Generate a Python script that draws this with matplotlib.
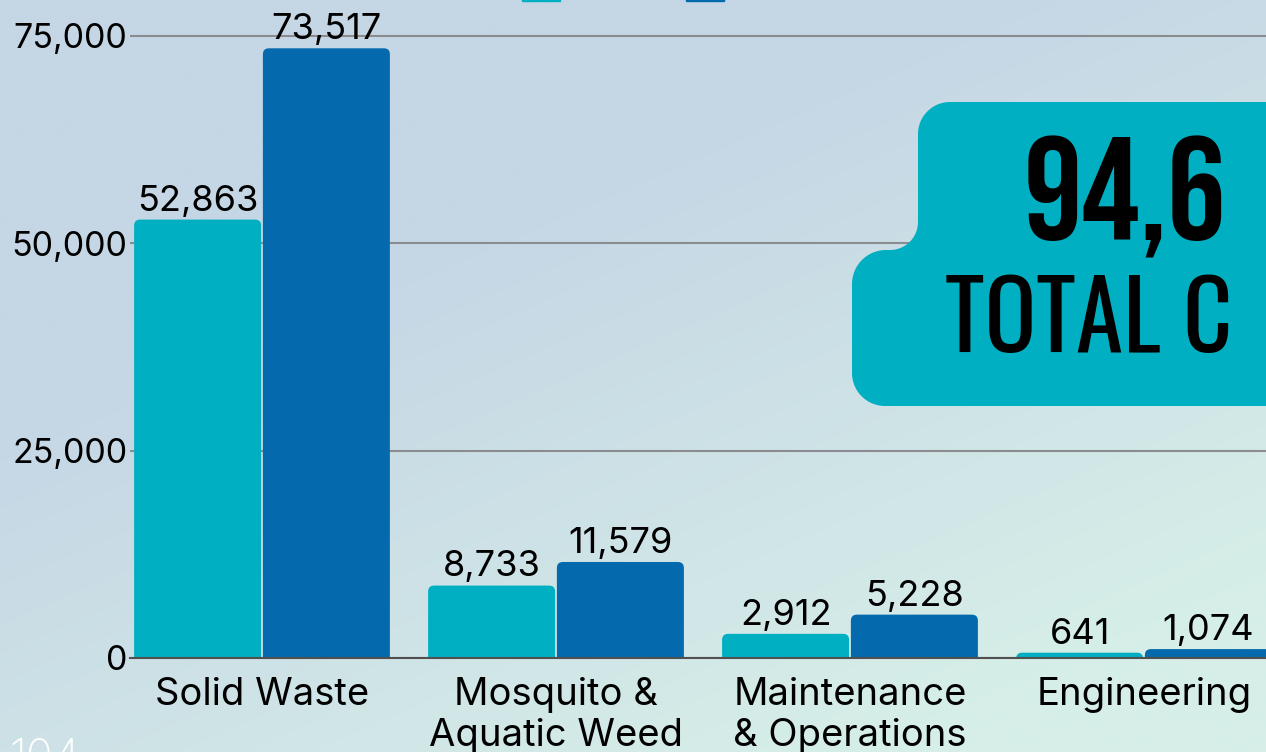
import numpy as np
import matplotlib
matplotlib.use("Agg")
import matplotlib.pyplot as plt
import matplotlib.font_manager as fm
from matplotlib.patches import FancyBboxPatch, Polygon, Patch

plt.rcParams['font.family'] = ['Inter', 'DejaVu Sans']

# ---------------- data ----------------
categories = ["Solid Waste", "Mosquito &\nAquatic Weed", "Maintenance\n& Operations", "Engineering"]
series_names = ["FY21", "FY22"]
fy21 = [52863, 8733, 2912, 641]
fy22 = [73517, 11579, 5228, 1074]
ytick_values = [0, 25000, 50000, 75000]
ytick_labels = ["0", "25,000", "50,000", "75,000"]
badge_number = "94,6"
badge_caption = "TOTAL C"
page_number = "104"

c21 = "#00AFC1"
c22 = "#046AAD"
badge_color = "#00AFC1"

W, H = 1266, 752
fig = plt.figure(figsize=(W / 100, H / 100), dpi=100)


# ---------------- pick condensed fonts for the badge ----------------
def pick(pref):
    entries = fm.fontManager.ttflist
    names = [f.name for f in entries]
    for p in pref:
        if p in names:
            return p, 'normal'
    for f in entries:
        if 'Condensed' in f.name or 'Narrow' in f.name:
            return f.name, 'normal'
    for f in entries:
        if str(f.stretch) in ('condensed', 'semi-condensed', 'extra-condensed', 'ultra-condensed'):
            return f.name, str(f.stretch)
    return 'DejaVu Sans', 'normal'


num_family, num_stretch = pick(['Bebas Neue', 'League Gothic', 'Oswald', 'Antonio', 'Roboto Condensed',
                                'Open Sans Condensed', 'Liberation Sans Narrow', 'Arial Narrow',
                                'DejaVu Sans Condensed', 'Noto Sans Condensed'])
cap_family, cap_stretch = pick(['Oswald', 'Antonio', 'Roboto Condensed', 'Open Sans Condensed',
                                'Liberation Sans Narrow', 'Noto Sans Condensed', 'DejaVu Sans Condensed',
                                'Bebas Neue', 'League Gothic'])

# ---------------- background gradient ----------------
bg = fig.add_axes([0, 0, 1, 1], zorder=0)
yy, xx = np.mgrid[0:1:200j, 0:1:340j]
t = np.clip((0.55 * xx + 0.75 * yy - 0.42) / 0.7, 0, 1)[..., None]
blue = np.array([197, 214, 229]) / 255
aqua = np.array([214, 238, 232]) / 255
img = blue * (1 - t) + aqua * t
bg.imshow(img, extent=[0, 1, 0, 1], aspect='auto', origin='upper', interpolation='bilinear')
bg.axis('off')

# ---------------- main axes ----------------
xmin, xmax = -0.449, 3.415
ymax = 75400
px_per_y = 622 / 75000
ax_h_px = ymax * px_per_y
ax = fig.add_axes([130 / W, (H - 658) / H, (W - 130) / W, ax_h_px / H], zorder=1)
ax.patch.set_alpha(0)
ax.set_xlim(xmin, xmax)
ax.set_ylim(0, ymax)

x = np.arange(len(categories))
bw = 0.432
off = 0.219
b1 = ax.bar(x - off, fy21, bw, color=c21, label=series_names[0])
b2 = ax.bar(x + off, fy22, bw, color=c22, label=series_names[1])

# rounded tops
px_per_x = (W - 130) / (xmax - xmin)
rx = 6 / px_per_x
asp = (1 / px_per_y) / (1 / px_per_x)
ext = 2.5 * rx * asp
for cont, col in ((b1, c21), (b2, c22)):
    for r in cont:
        r.set_visible(False)
        p = FancyBboxPatch((r.get_x(), -ext), r.get_width(), r.get_height() + ext,
                           boxstyle=f"round,pad=0,rounding_size={rx}",
                           mutation_aspect=asp, fc=col, ec='none', zorder=2)
        ax.add_patch(p)
    ax.bar_label(cont, labels=[f"{v:,.0f}" for v in cont.datavalues],
                 padding=1.5, fontsize=26, color='black', zorder=3)

ax.set_yticks(ytick_values)
ax.set_yticklabels(ytick_labels, fontsize=24.5)
ax.set_xticks(x)
ax.set_xticklabels(categories, fontsize=27.5, linespacing=1.2)
ax.tick_params(axis='both', length=0)
ax.tick_params(axis='y', pad=2)
ax.tick_params(axis='x', pad=13.5)
ax.grid(axis='y', color='#8a8c90', lw=1.5)
ax.set_axisbelow(True)
for s in ('top', 'right', 'left'):
    ax.spines[s].set_visible(False)
ax.spines['bottom'].set_color('#505050')
ax.spines['bottom'].set_linewidth(1.5)
ax.spines['bottom'].set_zorder(4)

# legend (mostly above the visible area)
handles = [Patch(color=c21), Patch(color=c22)]
fig.legend(handles, series_names, loc='lower center', bbox_to_anchor=(672 / W, 1 - 4 / H),
           bbox_transform=fig.transFigure, frameon=False, ncol=2, fontsize=26,
           borderpad=0, handlelength=1.05, handleheight=1.05, handletextpad=0.2,
           columnspacing=1.0, borderaxespad=0)

# ---------------- overlay (badge, page number) ----------------
ov = fig.add_axes([0, 0, 1, 1], zorder=5)
ov.set_xlim(0, W)
ov.set_ylim(H, 0)
ov.axis('off')


def arc(cx, cy, r, a0, a1, n=20):
    a = np.radians(np.linspace(a0, a1, n))
    return np.column_stack([cx + r * np.cos(a), cy + r * np.sin(a)])


R = 1400
top, xl_up = 102, 918
lower_top, xl_low, bottom = 250, 852, 406
r1, r2, r3, r4 = 32, 28, 34, 33
pts = [np.array([[R, top]])]
pts.append(arc(xl_up + r1, top + r1, r1, 270, 180))
pts.append(arc(xl_up - r2, lower_top - r2, r2, 0, 90))
pts.append(arc(xl_low + r3, lower_top + r3, r3, 270, 180))
pts.append(arc(xl_low + r4, bottom - r4, r4, 180, 90))
pts.append(np.array([[R, bottom]]))
verts = np.vstack(pts)
ov.add_patch(Polygon(verts, closed=True, fc=badge_color, ec='none', clip_on=False))

num_span = (992, 1258)
cap_span = (923, 1255)
t_num = ov.text(sum(num_span) / 2, 240, badge_number, fontsize=105, fontweight='bold', color='black',
                family=[num_family, 'DejaVu Sans'], fontstretch=num_stretch,
                ha='center', va='baseline', clip_on=False)
t_cap = ov.text(sum(cap_span) / 2, 352, badge_caption, fontsize=69, color='black',
                fontweight='light',
                family=[cap_family, 'DejaVu Sans'], fontstretch=cap_stretch,
                ha='center', va='baseline', clip_on=False)
ov.text(9, 771, page_number, fontsize=32, color='white', fontweight='light',
        ha='left', va='baseline', clip_on=False)

# shrink badge texts if the available font is too wide for the visible span
fig.canvas.draw()
rend = fig.canvas.get_renderer()
for txt, span in ((t_num, num_span), (t_cap, cap_span)):
    w = txt.get_window_extent(rend).width
    target = span[1] - span[0]
    if w > target:
        txt.set_fontsize(txt.get_fontsize() * target / w)

fig.savefig("out.png", dpi=100)
